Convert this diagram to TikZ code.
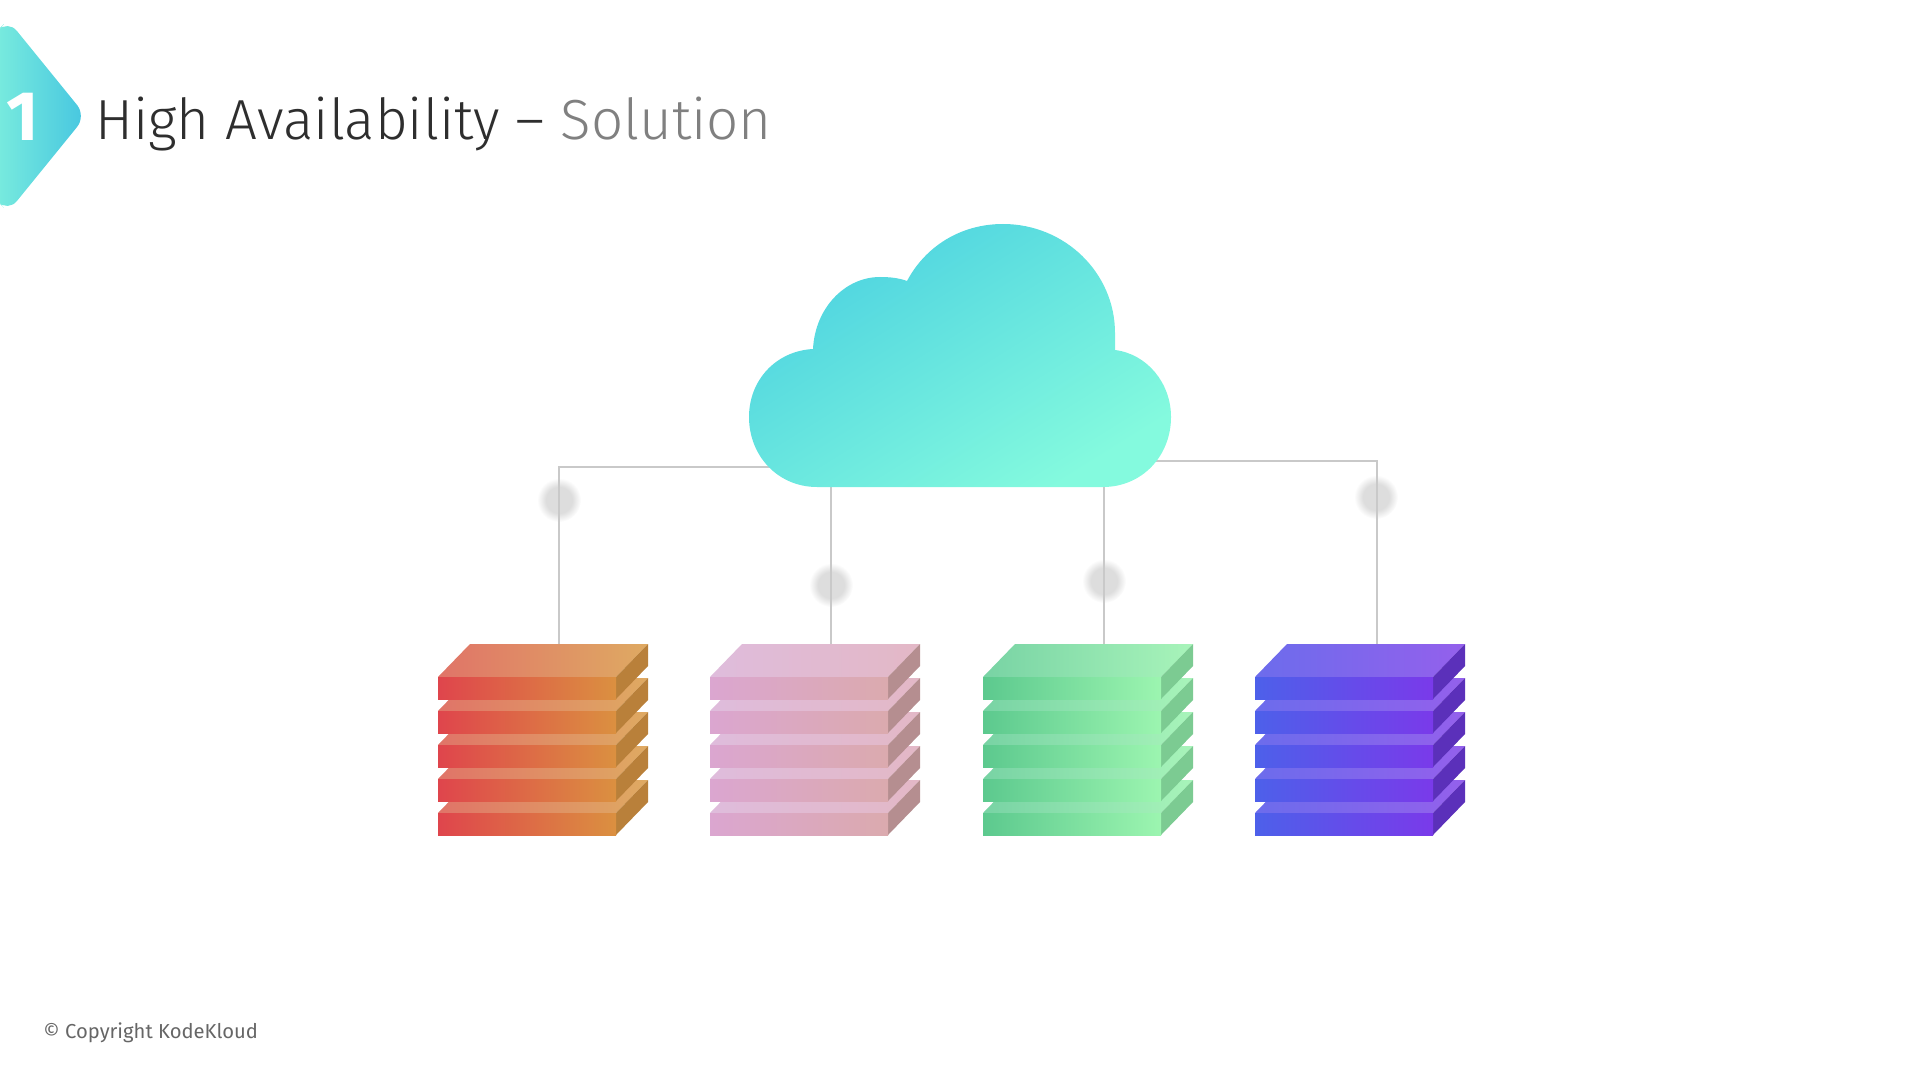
\documentclass[tikz,border=0pt]{standalone}
\usepackage{fontspec}
\setmainfont{Fira Sans}
\newfontfamily\titlefont{Fira Sans Light}
\definecolor{linegray}{HTML}{C9C9C9}
\definecolor{dotgray}{HTML}{DDDDDD}
\definecolor{badgeL}{HTML}{7AECDE}
\definecolor{badgeR}{HTML}{46C6E0}
\definecolor{cloudA}{HTML}{4CD2E0}
\definecolor{cloudB}{HTML}{84FADE}
\pgfdeclareradialshading{dotblur}{\pgfpoint{0bp}{0bp}}{color(0bp)=(dotgray); color(15bp)=(dotgray); color(25bp)=(white); color(50bp)=(white)}
\tikzset{
  link/.style={draw=linegray,line width=1.2pt},
  blurdot/.style={circle,minimum size=22pt,inner sep=0pt,shading=dotblur},
}
\begin{document}
\begin{tikzpicture}[x=.5pt,y=-.5pt]
  \useasboundingbox (0,0) rectangle (1920,1080);
  % badge
  \shade[left color=badgeL,right color=badgeR,rounded corners=7pt]
    (-6,34) -- (8,20) -- (86,116) -- (8,212) -- (-6,198) -- cycle;
  \node[text=white,font=\bfseries\fontsize{35}{35}\selectfont] (num) at (23,117) {1};
  % title
  \node[anchor=base west,inner sep=0pt,font=\titlefont\fontsize{28.25}{28.25}\selectfont,text=black!82] (title) at (95,140)
    {High Availability – \textcolor{black!50}{Solution}};
  \node[anchor=base west,inner sep=0pt,font=\fontsize{10.1}{10.1}\selectfont,text=black!60] (copy) at (43,1038) {© Copyright KodeKloud};
  % where the lines leave the cloud and reach the stacks
  \coordinate (C1) at (790,467);
  \coordinate (C2) at (831,470);
  \coordinate (C3) at (1104,470);
  \coordinate (C4) at (1130,461);
  \coordinate (S1) at (559,644);
  \coordinate (S2) at (831,644);
  \coordinate (S3) at (1104,644);
  \coordinate (S4) at (1377,644);
  \node[blurdot] (D1) at (559,500) {};
  \node[blurdot] (D2) at (831,585) {};
  \node[blurdot] (D3) at (1104,581) {};
  \node[blurdot] (D4) at (1376,497) {};
  \draw[link] (C1) -| (S1);
  \draw[link] (C2) -- (S2);
  \draw[link] (C3) -- (S3);
  \draw[link] (C4) -| (S4);
  % cloud
  \shade[left color=cloudA,right color=cloudB,shading angle=32]
    (817,487) .. controls (778,487) and (749,456) .. (749,417)
    .. controls (749,380) and (776,351) .. (813,349)
    .. controls (815,308) and (845,277) .. (880,277)
    .. controls (890,277) and (899,278) .. (907,281)
    .. controls (925,247) and (960,224) .. (1003,224)
    .. controls (1065,224) and (1115,273) .. (1115,333)
    -- (1115,350)
    .. controls (1147,354) and (1171,383) .. (1171,417)
    .. controls (1171,456) and (1142,487) .. (1103,487)
    -- cycle;
  % stacks, bottom slab first so that upper ones cover it
  \foreach \x/\fl/\fr/\tl/\tr/\sd in {
      438/DF454C/DB9040/E07468/DFAA62/B9803A,
      710/DBA6D0/DBAAAE/DFBCDC/E3B8C6/B58E90,
      983/5CC98E/9CF5B0/78D3A4/A8F4BA/7CCB92,
      1255/4D60EA/7A3AEA/6C6CEC/9460EC/5B30BA}{
    \definecolor{cfl}{HTML}{\fl}
    \definecolor{cfr}{HTML}{\fr}
    \definecolor{ctl}{HTML}{\tl}
    \definecolor{ctr}{HTML}{\tr}
    \definecolor{csd}{HTML}{\sd}
    \foreach \i in {4,3,2,1,0}{
      \pgfmathsetmacro{\y}{644+34*\i}
      \shade[left color=ctl,right color=ctr] (\x,\y+33) -- (\x+32,\y) -- (\x+210,\y) -- (\x+178,\y+33) -- cycle;
      \fill[csd] (\x+178,\y+33) -- (\x+210,\y) -- (\x+210,\y+22) -- (\x+178,\y+55) -- cycle;
      \shade[left color=cfl,right color=cfr] (\x,\y+33) rectangle (\x+178,\y+55);
    }
  }
\end{tikzpicture}
\end{document}
